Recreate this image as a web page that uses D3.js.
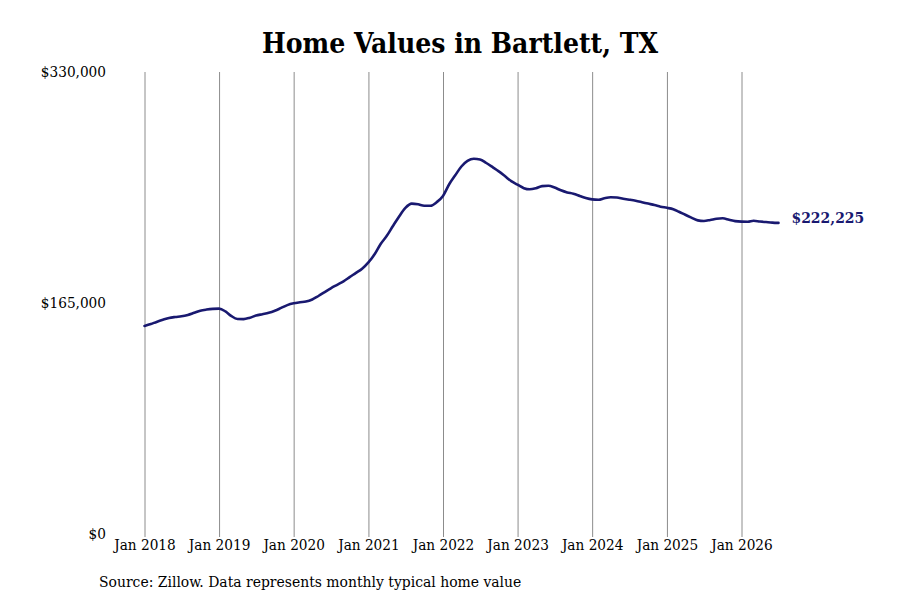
<!DOCTYPE html>
<html>
<head>
<meta charset="utf-8">
<script src="https://cdn.jsdelivr.net/npm/d3@7"></script>
<style>
  body { margin: 0; background: #fff; }
  svg text { font-family: "DejaVu Serif Condensed", "DejaVu Serif", serif; }
</style>
</head>
<body>
<div id="chart"></div>
<script>
// monthly typical home value, Jan 2018 .. Jul 2026
const startMonth = "2018-01";
const values = [
  // 2018
  148600, 150000, 151500, 153000, 154300, 155000, 155500, 156500, 158000, 159500, 160300, 160800,
  // 2019
  161000, 159000, 155800, 153600, 153500, 154500, 156000, 157000, 158000, 159500, 161500, 163500,
  // 2020
  164800, 165500, 166000, 167500, 170000, 172800, 175500, 178000, 180500, 183500, 186500, 189500,
  // 2021
  194000, 200000, 207000, 213000, 220000, 227000, 233000, 236000, 235500, 234500, 234500, 237000,
  // 2022
  241500, 250000, 256000, 262500, 266500, 268000, 267500, 265000, 262000, 259000, 255500, 252000,
  // 2023
  249500, 247000, 246200, 247000, 248500, 248800, 247500, 245500, 244000, 243000, 241500, 240000,
  // 2024
  239000, 238700, 239800, 240500, 240300, 239500, 238800, 238000, 237000, 236000, 235000, 233800,
  // 2025
  233000, 232000, 230200, 228000, 226000, 224000, 223600, 224300, 225200, 225500, 224500, 223500,
  // 2026
  223100, 223000, 223700, 223200, 222800, 222400, 222225
];
const yTicks = [0, 165000, 330000];
const xTickYears = [2018, 2019, 2020, 2021, 2022, 2023, 2024, 2025, 2026];

const width = 900, height = 600;

const parseMonth = d3.timeParse("%Y-%m");
const t0 = parseMonth(startMonth);
const data = values.map((v, i) => ({ date: d3.timeMonth.offset(t0, i), value: v }));

const svg = d3.select("#chart").append("svg")
  .attr("width", width)
  .attr("height", height);

const x = d3.scaleTime()
  .domain([new Date(2018, 0, 1), new Date(2026, 0, 1)])
  .range([144.5, 741.5]);

const y = d3.scaleLinear()
  .domain([0, 330000])
  .range([534, 72]);

// title
svg.append("text")
  .attr("x", 460)
  .attr("y", 53)
  .attr("text-anchor", "middle")
  .attr("font-size", 28)
  .attr("font-weight", "bold")
  .attr("fill", "#000")
  .text("Home Values in Bartlett, TX");

// vertical grid lines + x labels
const gridBottom = 537;
const xAxis = svg.append("g")
  .attr("transform", `translate(0,${gridBottom})`)
  .call(d3.axisBottom(x)
    .tickValues(xTickYears.map(yr => new Date(yr, 0, 1)))
    .tickFormat(d3.timeFormat("Jan %Y")));
xAxis.select(".domain").remove();
xAxis.selectAll(".tick line")
  .attr("y1", 0)
  .attr("y2", -(gridBottom - 72))
  .attr("stroke", "#8c8c8c")
  .attr("stroke-width", 1);
xAxis.selectAll(".tick text")
  .attr("y", 2)
  .attr("font-size", 15.2)
  .attr("fill", "#000");

// y labels
const yAxis = svg.append("g")
  .attr("transform", "translate(106,0)")
  .call(d3.axisLeft(y)
    .tickValues(yTicks)
    .tickSize(0)
    .tickPadding(0)
    .tickFormat(d => "$" + d3.format(",")(d)));
yAxis.select(".domain").remove();
yAxis.selectAll(".tick text")
  .attr("font-size", 15.2)
  .attr("fill", "#000");

// line
const line = d3.line()
  .x(d => x(d.date))
  .y(d => y(d.value))
  .curve(d3.curveMonotoneX);

svg.append("path")
  .datum(data)
  .attr("fill", "none")
  .attr("stroke", "#191970")
  .attr("stroke-width", 2.6)
  .attr("stroke-linejoin", "round")
  .attr("stroke-linecap", "round")
  .attr("d", line);

// end label
const last = data[data.length - 1];
svg.append("text")
  .attr("x", x(last.date) + 13)
  .attr("y", y(last.value) - 5)
  .attr("dy", "0.35em")
  .attr("font-size", 15.5)
  .attr("font-weight", "bold")
  .attr("fill", "#191970")
  .text("$" + d3.format(",")(last.value));

// source
svg.append("text")
  .attr("x", 99)
  .attr("y", 587)
  .attr("font-size", 15.5)
  .attr("fill", "#000")
  .text("Source: Zillow. Data represents monthly typical home value");
</script>
</body>
</html>
